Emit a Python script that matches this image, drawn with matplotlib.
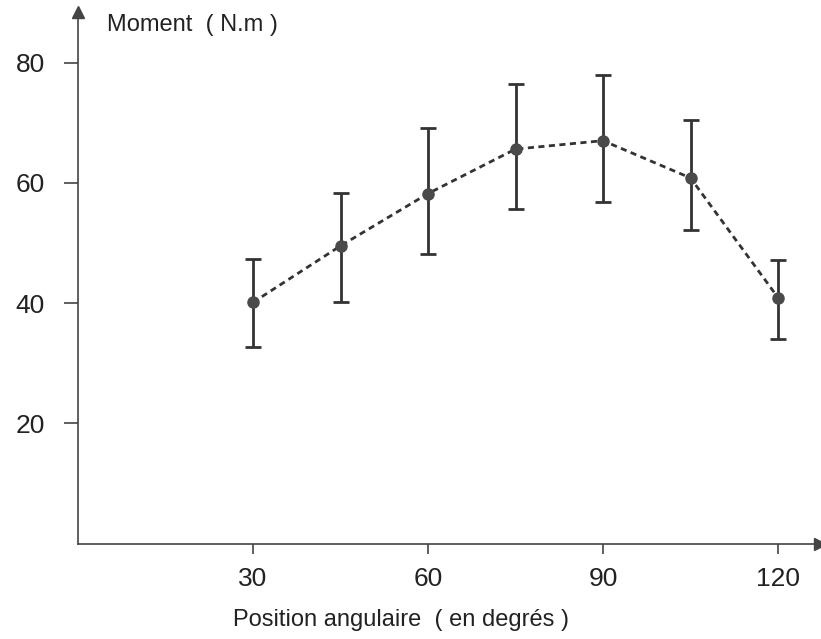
import matplotlib.pyplot as plt

plt.rcParams['font.family'] = ['Liberation Sans', 'DejaVu Sans']

# data
angles = [30, 45, 60, 75, 90, 105, 120]
moment = [40.1, 49.5, 58.2, 65.6, 67.0, 60.8, 40.9]
err_low = [32.7, 40.1, 48.1, 55.7, 56.8, 52.2, 34.0]
err_high = [47.4, 58.3, 69.1, 76.5, 77.9, 70.4, 47.1]

x_ticks = [30, 60, 90, 120]
y_ticks = [20, 40, 60, 80]

yerr = [[m - lo for m, lo in zip(moment, err_low)],
        [hi - m for m, hi in zip(moment, err_high)]]

fig = plt.figure(figsize=(8.21, 6.39), dpi=100)
ax = fig.add_axes([78 / 821, 95.5 / 639, (820 - 78) / 821, (543.5 - 12) / 639])

dark = '#333333'

# dashed curve
ax.plot(angles, moment, linestyle=(0, (2.2, 1.6)), color=dark, lw=2.0, zorder=2)
# error bars
ax.errorbar(angles, moment, yerr=yerr, fmt='none', ecolor=dark, elinewidth=2.0,
            capsize=6, capthick=2.0, zorder=3)
# points
ax.plot(angles, moment, 'o', color='#4a4a4a', markersize=8, zorder=4)

ax.set_xlim(0, 127.2)
ax.set_ylim(0, 88.4)

ax.spines['top'].set_visible(False)
ax.spines['right'].set_visible(False)
for s in ['left', 'bottom']:
    ax.spines[s].set_color('#444444')
    ax.spines[s].set_linewidth(1.2)

ax.set_xticks(x_ticks)
ax.set_yticks(y_ticks)
ax.tick_params(axis='x', direction='out', length=7, width=1.2, color='#444444',
               labelsize=19, pad=10, labelcolor='#222222')
ax.tick_params(axis='y', direction='out', length=10, width=1.2, color='#444444',
               labelsize=19, pad=14, labelcolor='#222222')

# arrows at the axis ends
ax.plot(1, 0, marker='>', color='#444444', markersize=9, transform=ax.transAxes, clip_on=False)
ax.plot(0, 1, marker='^', color='#444444', markersize=9, transform=ax.transAxes, clip_on=False)

ax.text(0.039, 0.975, 'Moment  ( N.m )', transform=ax.transAxes, fontsize=17,
        color='#222222', va='center', ha='left')
fig.text(401 / 821, 1 - 620 / 639, 'Position angulaire  ( en degrés )', fontsize=17,
         color='#222222', va='center', ha='center')

plt.savefig('out.png', dpi=100)
